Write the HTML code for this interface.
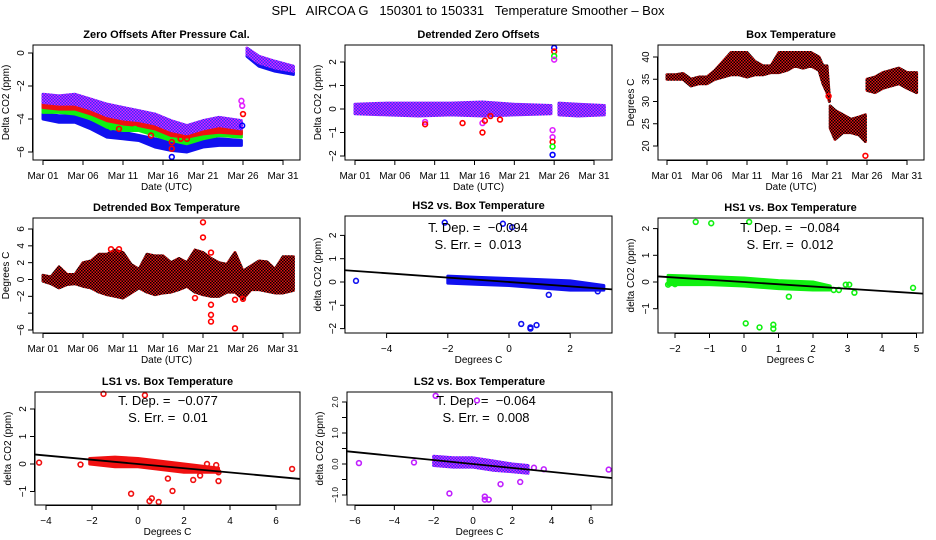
<!DOCTYPE html>
<html><head><meta charset="utf-8"><style>
html,body{margin:0;padding:0;background:#fff}
svg{display:block;font-family:"Liberation Sans",sans-serif}
</style></head><body>
<svg id="fig" width="936" height="540" viewBox="0 0 936 540">
<defs>
<pattern id="patRB" width="3" height="3" patternUnits="userSpaceOnUse"><rect width="3" height="3" fill="#e01010"/><rect width="1.5" height="1.5" fill="#000"/><rect x="1.5" y="1.5" width="1.5" height="1.5" fill="#000"/></pattern>
<pattern id="patPB" width="3" height="3" patternUnits="userSpaceOnUse"><rect width="3" height="3" fill="#e020ff"/><rect width="1.5" height="1.5" fill="#3030ff"/><rect x="1.5" y="1.5" width="1.5" height="1.5" fill="#3030ff"/></pattern>
</defs>
<text x="468" y="15" text-anchor="middle" font-size="13" style="white-space:pre">SPL   AIRCOA G   150301 to 150331   Temperature Smoother – Box</text>
</svg>
<script>
// ---------- DATA ----------
const dateTickDays = [0,5,10,15,20,25,30];
const dateTickLabels = ["Mar 01","Mar 06","Mar 11","Mar 16","Mar 21","Mar 26","Mar 31"];
// Panel 1: Zero offsets (bands: hi/lo envelopes)
const p1DaysA = [0,2,4,6,8,10,12,14,16,18,20,22,24.8];
const p1DaysB = [25.5,27,29,31.3];
const p1PurpleHiA = [-2.5,-2.6,-2.5,-2.8,-3.1,-3.3,-3.5,-3.7,-4.1,-4.4,-4.1,-3.9,-4.1];
const p1PurpleLoA = [-3.0,-3.1,-3.1,-3.4,-3.8,-4.0,-4.1,-4.3,-4.7,-4.9,-4.6,-4.4,-4.6];
const p1RedHiA = [-2.9,-3.0,-3.0,-3.2,-3.6,-3.8,-3.9,-4.1,-4.5,-4.7,-4.4,-4.3,-4.5];
const p1RedLoA = [-3.3,-3.4,-3.4,-3.7,-4.1,-4.3,-4.4,-4.6,-5.0,-5.1,-4.9,-4.8,-4.9];
const p1GreenHiA = [-3.2,-3.3,-3.3,-3.6,-4.0,-4.3,-4.3,-4.5,-4.9,-5.1,-4.9,-4.7,-4.8];
const p1GreenLoA = [-3.6,-3.6,-3.7,-4.0,-4.5,-4.7,-4.7,-5.0,-5.3,-5.5,-5.2,-5.0,-5.1];
const p1BlueHiA = [-3.7,-3.8,-3.8,-4.2,-4.6,-4.8,-5.0,-5.2,-5.4,-5.6,-5.3,-5.2,-5.3];
const p1BlueLoA = [-4.0,-4.2,-4.2,-4.6,-5.1,-5.2,-5.3,-5.7,-5.9,-6.0,-5.7,-5.6,-5.6];
const p1PurpleHiB = [0.3,-0.2,-0.5,-0.8];
const p1PurpleLoB = [-0.1,-0.6,-0.9,-1.1];
const p1BlueHiB = [0.1,-0.4,-0.7,-1.0];
const p1BlueLoB = [-0.2,-0.8,-1.1,-1.3];
const p1OutDays = [24.8,24.9,25.0,24.9,16.1,16.1,16.1,8.5,9.5,11.5,13.5,17.2,18.0];
const p1OutVals = [-2.9,-3.2,-3.7,-4.4,-6.3,-5.4,-5.8,-4.5,-4.6,-4.6,-5.0,-5.2,-5.2];
const p1OutColors = ["#e020ff","#e020ff","#f00","#00f","#00f","#f00","#f00","#0f0","#f00","#0f0","#f00","#f00","#f00"];
// Panel 2: detrended zero offsets
const p2DaysA = [0,4,8,12,16,20,24.6];
const p2HiA = [0.2,0.25,0.25,0.25,0.3,0.2,0.15];
const p2LoA = [-0.2,-0.25,-0.3,-0.25,-0.3,-0.25,-0.2];
const p2DaysB = [25.6,28,31.3];
const p2HiB = [0.25,0.2,0.15];
const p2LoB = [-0.25,-0.3,-0.25];
const p2OutDays = [8.8,8.8,13.5,16.0,16.0,16.3,17.0,18.2,24.8,24.8,24.8,24.8,24.8,25.0,25.0,25.0,25.0];
const p2OutVals = [-0.55,-0.65,-0.6,-1.0,-0.6,-0.5,-0.3,-0.45,-0.9,-1.2,-1.4,-1.6,-1.95,2.6,2.45,2.25,2.1];
const p2OutColors = ["#e020ff","#f00","#f00","#f00","#e020ff","#f00","#f00","#f00","#e020ff","#e020ff","#f00","#0f0","#00f","#00f","#f00","#0f0","#e020ff"];
// Panel 3: box temperature
const p3DaysA = [0,1,2,3,4,5,6,7,8,9,10,11,12,13,14,15,16,17,18,19,19.5,20,20.3];
const p3HiA = [36,36,36.3,35,35.5,35.5,37,39,41,41,41,39,38,38,41,41,41,41,41,40,38,38,31];
const p3LoA = [35,35,35,33.5,34,34,35,35.5,36,36,35.5,36,36,36.5,36.5,37,38,37.5,38,37,34,32,30];
const p3DaysB = [20.4,21,22,23,24,24.8];
const p3HiB = [29,28,27,26,26.5,27];
const p3LoB = [24,21.5,23,23,22.5,21];
const p3DaysC = [25,26,27,28,29,30,31.2];
const p3HiC = [35,35.5,36.5,37,37.5,36.5,36.5];
const p3LoC = [32.5,32,33,33.5,34,33,32];
const p3OutDays = [24.8,20.2];
const p3OutVals = [17.8,31.2];
// Panel 4: detrended box temperature
const p4Days = [0,1,2,3,4,5,6,7,8,9,10,11,12,13,14,15,16,17,18,19,20,21,22,23,24,25,26,27,28,29,30,31.3];
const p4Hi = [0.5,0.3,1.5,0.6,0.6,2,2.2,3,3,3.5,3.2,1.8,1.2,3,2.8,2.8,2.0,2.5,2,3.5,3.2,2.5,2,1.8,3.2,1.0,1.6,2.2,2.1,1.2,2.7,2.7];
const p4Lo = [-0.2,-0.5,-1,-0.6,-0.5,-0.8,-1,-1.5,-1.8,-2,-2.2,-1.6,-1,-1.5,-1.8,-1.6,-1.5,-1.2,-0.8,-1.5,-1.8,-2,-2,-1.5,-1.5,-2.3,-1.2,-1.2,-1.4,-1.6,-1.6,-1.3];
const p4OutDays = [20,20,21,21,21,21,24,19,24,25,8.5,9.5];
const p4OutVals = [6.8,5,3.2,-3,-4.2,-5,-5.8,-2.2,-2.4,-2.3,3.6,3.6];
// Scatter panels
const hs2CloudX = [-2,-1,0,1,2,3.1];
const hs2CloudHi = [0.25,0.2,0.15,0.1,0.05,-0.15];
const hs2CloudLo = [-0.05,-0.1,-0.15,-0.25,-0.35,-0.35];
const hs2OutX = [-5,-2.1,-0.2,0.1,1.3,0.4,0.7,0.7,0.9,2.9];
const hs2OutY = [0.05,2.55,2.5,2.35,-0.55,-1.8,-2.0,-1.95,-1.85,-0.4];
const hs2Slope = -0.094, hs2Err = "0.013";
const hs1CloudX = [-2.2,-1,0,1,2,2.5];
const hs1CloudHi = [0.25,0.2,0.15,0.05,0.0,-0.15];
const hs1CloudLo = [-0.1,-0.1,-0.15,-0.25,-0.3,-0.3];
const hs1OutX = [-2.2,-2,-1.4,-0.95,0.15,0.05,0.45,0.85,0.85,1.3,2.6,2.75,2.95,3.05,3.2,4.9];
const hs1OutY = [-0.1,-0.08,2.25,2.2,2.25,-1.55,-1.7,-1.6,-1.75,-0.55,-0.3,-0.3,-0.1,-0.1,-0.4,-0.22];
const hs1Slope = -0.084, hs1Err = "0.012";
const ls1CloudX = [-2.1,-1,0,1,2,3.5];
const ls1CloudHi = [0.2,0.25,0.2,0.1,0.0,-0.15];
const ls1CloudLo = [0.0,-0.1,-0.1,-0.2,-0.3,-0.3];
const ls1OutX = [-4.3,-2.5,-1.5,0.3,-0.3,0.5,0.6,0.9,1.3,1.5,2.4,2.7,3.0,3.4,3.5,3.5,6.7];
const ls1OutY = [0.05,-0.02,2.55,2.5,-1.08,-1.35,-1.25,-1.38,-0.53,-0.98,-0.58,-0.42,0.0,-0.04,-0.3,-0.62,-0.18];
const ls1Slope = -0.077, ls1Err = "0.01";
const ls2CloudX = [-2,-1,0,1,2,2.8];
const ls2CloudHi = [0.25,0.2,0.2,0.1,0.0,-0.05];
const ls2CloudLo = [-0.05,-0.1,-0.1,-0.2,-0.25,-0.3];
const ls2OutX = [-5.8,-3,-1.9,0.2,-1.2,0.6,0.6,0.8,1.4,2.4,3.1,3.6,6.9];
const ls2OutY = [0.03,0.05,2.2,2.05,-0.95,-1.05,-1.15,-1.15,-0.65,-0.58,-0.12,-0.17,-0.18];
const ls2Slope = -0.064, ls2Err = "0.008";

// ---------- DRAWING ----------
const NS = "http://www.w3.org/2000/svg";
const fig = document.getElementById("fig");
function mk(tag, attrs, parent){ const e=document.createElementNS(NS,tag); for(const k in attrs) e.setAttribute(k,attrs[k]); (parent||fig).appendChild(e); return e; }
function scale(d0,d1,r0,r1){ return v => r0 + (v-d0)/(d1-d0)*(r1-r0); }

function panel(cfg){
  const g = mk("g",{});
  
  
  const X = scale(cfg.xr[0],cfg.xr[1],cfg.xp[0],cfg.xp[1]);
  const Y = scale(cfg.yr[0],cfg.yr[1],cfg.yp[0],cfg.yp[1]);
  const t = mk("text",{x:(cfg.l+cfg.r)/2,y:cfg.t-7,"text-anchor":"middle","font-size":"11","font-weight":"bold"},g);
  t.textContent = cfg.title;
  
  
  const plot = mk("g",{},g);
  
  
  cfg.draw(plot,X,Y);
  const box = mk("rect",{x:cfg.l,y:cfg.t,width:cfg.r-cfg.l,height:cfg.b-cfg.t,fill:"none",stroke:"#000","stroke-width":"1"},g);
  
  
  const xa = mk("g",{},g);
  
  
  const xs = cfg.xticks.map(X);
  mk("line",{x1:xs[0],x2:xs[xs.length-1],y1:cfg.b+0.5,y2:cfg.b+0.5,stroke:"#000"},xa);
  cfg.xticks.forEach((v,i)=>{
    const x = X(v);
    mk("line",{x1:x,x2:x,y1:cfg.b,y2:cfg.b+5,stroke:"#000"},xa);
    const tl = mk("text",{x:x,y:cfg.b+19,"text-anchor":"middle","font-size":"10"},xa);
    tl.textContent = cfg.xlabels[i];
    
    
  });
  const xt = mk("text",{x:(cfg.l+cfg.r)/2,y:cfg.b+30,"text-anchor":"middle","font-size":"10"},xa);
  xt.textContent = cfg.xtitle;
  
  
  const ya = mk("g",{},g);
  
  
  const ys = cfg.yticks.map(Y);
  mk("line",{x1:cfg.l-0.5,x2:cfg.l-0.5,y1:ys[0],y2:ys[ys.length-1],stroke:"#000"},ya);
  const yfs = cfg.yfont || 10;
  cfg.yticks.forEach((v,i)=>{
    const y = Y(v);
    mk("line",{x1:cfg.l-5,x2:cfg.l,y1:y,y2:y,stroke:"#000"},ya);
    const tl = mk("text",{x:0,y:0,"text-anchor":"middle","font-size":yfs,transform:`translate(${cfg.l-9},${y}) rotate(-90)`},ya);
    tl.textContent = cfg.ylabels[i];
    
    
  });
  const yt = mk("text",{x:0,y:0,"text-anchor":"middle","font-size":"10",transform:`translate(${cfg.l-24},${(cfg.t+cfg.b)/2}) rotate(-90)`},ya);
  yt.textContent = cfg.ytitle;
  
  
}

function band(g,X,Y,days,hi,lo,fill,name){
  const pts = days.map((d,i)=>X(d)+","+Y(hi[i])).concat(days.map((d,i)=>X(d)+","+Y(lo[i])).reverse());
  const p = mk("polygon",{points:pts.join(" "),fill:fill,stroke:fill,"stroke-width":"3","stroke-linejoin":"round"},g);
  
  
}
function pts(g,X,Y,xs,ys,colors,name){
  xs.forEach((x,i)=>{
    const c = mk("circle",{cx:X(x),cy:Y(ys[i]),r:"2.4",fill:"none",stroke:Array.isArray(colors)?colors[i]:colors,"stroke-width":"1.6"},g);
    
    
  });
}
function fitText(g,cx,ty,slope,err){
  const a = mk("text",{x:cx,y:ty,"text-anchor":"middle","font-size":"13",style:"white-space:pre"},g);
  a.textContent = "T. Dep. =  " + (slope<0?"\u2212":"") + Math.abs(slope).toFixed(3);
  
  
  const b = mk("text",{x:cx,y:ty+17,"text-anchor":"middle","font-size":"13",style:"white-space:pre"},g);
  b.textContent = "S. Err. =  " + err;
  
  
}
function fitLine(g,X,Y,x0,x1,slope){
  const l = mk("line",{x1:X(x0),y1:Y(slope*x0),x2:X(x1),y2:Y(slope*x1),stroke:"#000","stroke-width":"1.8"},g);
  
  
}

const PURPLE="url(#patPB)", RB="url(#patRB)";

// Row 1
panel({name:"zero-offsets-panel",title:"Zero Offsets After Pressure Cal.",l:33,r:300,t:45,b:160,
  xr:[0,30],xp:[43,283],yr:[0,-6],yp:[53,152],
  xticks:dateTickDays,xlabels:dateTickLabels,yticks:[0,-2,-4,-6],ylabels:["0","\u22122","\u22124","\u22126"],
  xtitle:"Date (UTC)",ytitle:"Delta CO2 (ppm)",
  draw:(g,X,Y)=>{
    band(g,X,Y,p1DaysA,p1BlueHiA,p1BlueLoA,"#1010f0","hs2-band");
    band(g,X,Y,p1DaysA,p1GreenHiA,p1GreenLoA,"#10f010","hs1-band");
    band(g,X,Y,p1DaysA,p1RedHiA,p1RedLoA,"#f01010","ls1-band");
    band(g,X,Y,p1DaysA,p1PurpleHiA,p1PurpleLoA,PURPLE,"ls2-band");
    band(g,X,Y,p1DaysB,p1BlueHiB,p1BlueLoB,"#1010f0","hs2-band-late");
    band(g,X,Y,p1DaysB,p1PurpleHiB,p1PurpleLoB,PURPLE,"ls2-band-late");
    pts(g,X,Y,p1OutDays,p1OutVals,p1OutColors,"outlier-point");
  }});
panel({name:"detrended-zero-offsets-panel",title:"Detrended Zero Offsets",l:345,r:612,t:45,b:160,
  xr:[0,30],xp:[355,594],yr:[2,-2],yp:[62,156],
  xticks:dateTickDays,xlabels:dateTickLabels,yticks:[-2,-1,0,1,2],ylabels:["\u22122","\u22121","0","1","2"],
  xtitle:"Date (UTC)",ytitle:"Delta CO2 (ppm)",
  draw:(g,X,Y)=>{
    band(g,X,Y,p2DaysA,p2HiA,p2LoA,PURPLE,"detrended-band");
    band(g,X,Y,p2DaysB,p2HiB,p2LoB,PURPLE,"detrended-band-late");
    pts(g,X,Y,p2OutDays,p2OutVals,p2OutColors,"outlier-point");
  }});
panel({name:"box-temperature-panel",title:"Box Temperature",l:658,r:924,t:45,b:160,
  xr:[0,30],xp:[667,907],yr:[40,20],yp:[57,146],
  xticks:dateTickDays,xlabels:dateTickLabels,yticks:[20,25,30,35,40],ylabels:["20","25","30","35","40"],
  xtitle:"Date (UTC)",ytitle:"Degrees C",
  draw:(g,X,Y)=>{
    band(g,X,Y,p3DaysA,p3HiA,p3LoA,RB,"temp-band");
    band(g,X,Y,p3DaysB,p3HiB,p3LoB,RB,"temp-band-cold");
    band(g,X,Y,p3DaysC,p3HiC,p3LoC,RB,"temp-band-late");
    pts(g,X,Y,p3OutDays,p3OutVals,"#f00","outlier-point");
  }});
// Row 2
panel({name:"detrended-box-temp-panel",title:"Detrended Box Temperature",l:33,r:300,t:218,b:333,
  xr:[0,30],xp:[43,283],yr:[6,-6],yp:[229,330],
  xticks:dateTickDays,xlabels:dateTickLabels,yticks:[-6,-4,-2,0,2,4,6],ylabels:["\u22126","","\u22122","0","2","4","6"],
  xtitle:"Date (UTC)",ytitle:"Degrees C",
  draw:(g,X,Y)=>{
    band(g,X,Y,p4Days,p4Hi,p4Lo,RB,"detrended-temp-band");
    pts(g,X,Y,p4OutDays,p4OutVals,"#f00","outlier-point");
  }});
panel({name:"hs2-vs-temp-panel",title:"HS2 vs. Box Temperature",l:345,r:612,t:216,b:333,
  xr:[0,2],xp:[509,570.2],yr:[0,2],yp:[282,235.4],
  xticks:[-4,-2,0,2],xlabels:["\u22124","\u22122","0","2"],yticks:[-2,-1,0,1,2],ylabels:["\u22122","\u22121","0","1","2"],
  xtitle:"Degrees C",ytitle:"delta CO2 (ppm)",
  draw:(g,X,Y)=>{
    band(g,X,Y,hs2CloudX,hs2CloudHi,hs2CloudLo,"#1010f0","hs2-cloud");
    pts(g,X,Y,hs2OutX,hs2OutY,"#1010f0","hs2-point");
    fitLine(g,X,Y,-5.36,3.37,hs2Slope);
    fitText(g,478,232,hs2Slope,hs2Err);
  }});
panel({name:"hs1-vs-temp-panel",title:"HS1 vs. Box Temperature",l:658,r:923,t:218,b:333,
  xr:[0,5],xp:[744,916.5],yr:[0,2],yp:[282,228.6],
  xticks:[-2,-1,0,1,2,3,4,5],xlabels:["\u22122","\u22121","0","1","2","3","4","5"],yticks:[-1,0,1,2],ylabels:["\u22121","0","1","2"],
  xtitle:"Degrees C",ytitle:"delta CO2 (ppm)",
  draw:(g,X,Y)=>{
    band(g,X,Y,hs1CloudX,hs1CloudHi,hs1CloudLo,"#10f010","hs1-cloud");
    pts(g,X,Y,hs1OutX,hs1OutY,"#10f010","hs1-point");
    fitLine(g,X,Y,-2.49,5.19,hs1Slope);
    fitText(g,790,232,hs1Slope,hs1Err);
  }});
// Row 3
panel({name:"ls1-vs-temp-panel",title:"LS1 vs. Box Temperature",l:35,r:300,t:392,b:505,
  xr:[-4,6],xp:[46,276],yr:[0,2],yp:[464,409],
  xticks:[-4,-2,0,2,4,6],xlabels:["\u22124","\u22122","0","2","4","6"],yticks:[-1,0,1,2],ylabels:["\u22121","0","1","2"],
  xtitle:"Degrees C",ytitle:"delta CO2 (ppm)",
  draw:(g,X,Y)=>{
    band(g,X,Y,ls1CloudX,ls1CloudHi,ls1CloudLo,"#f01010","ls1-cloud");
    pts(g,X,Y,ls1OutX,ls1OutY,"#f01010","ls1-point");
    fitLine(g,X,Y,-4.52,7.05,ls1Slope);
    fitText(g,168,405,ls1Slope,ls1Err);
  }});
panel({name:"ls2-vs-temp-panel",title:"LS2 vs. Box Temperature",l:347,r:612,t:392,b:505,yfont:8,
  xr:[-6,6],xp:[355,591],yr:[0,2],yp:[464,402],
  xticks:[-6,-4,-2,0,2,4,6],xlabels:["\u22126","\u22124","\u22122","0","2","4","6"],yticks:[-1,-0.5,0,0.5,1,1.5,2],ylabels:["\u22121.0","","0.0","","1.0","","2.0"],
  xtitle:"Degrees C",ytitle:"delta CO2 (ppm)",
  draw:(g,X,Y)=>{
    band(g,X,Y,ls2CloudX,ls2CloudHi,ls2CloudLo,PURPLE,"ls2-cloud");
    pts(g,X,Y,ls2OutX,ls2OutY,"#c020ff","ls2-point");
    fitLine(g,X,Y,-6.4,7.05,ls2Slope);
    fitText(g,486,405,ls2Slope,ls2Err);
  }});
</script>
</body></html>
